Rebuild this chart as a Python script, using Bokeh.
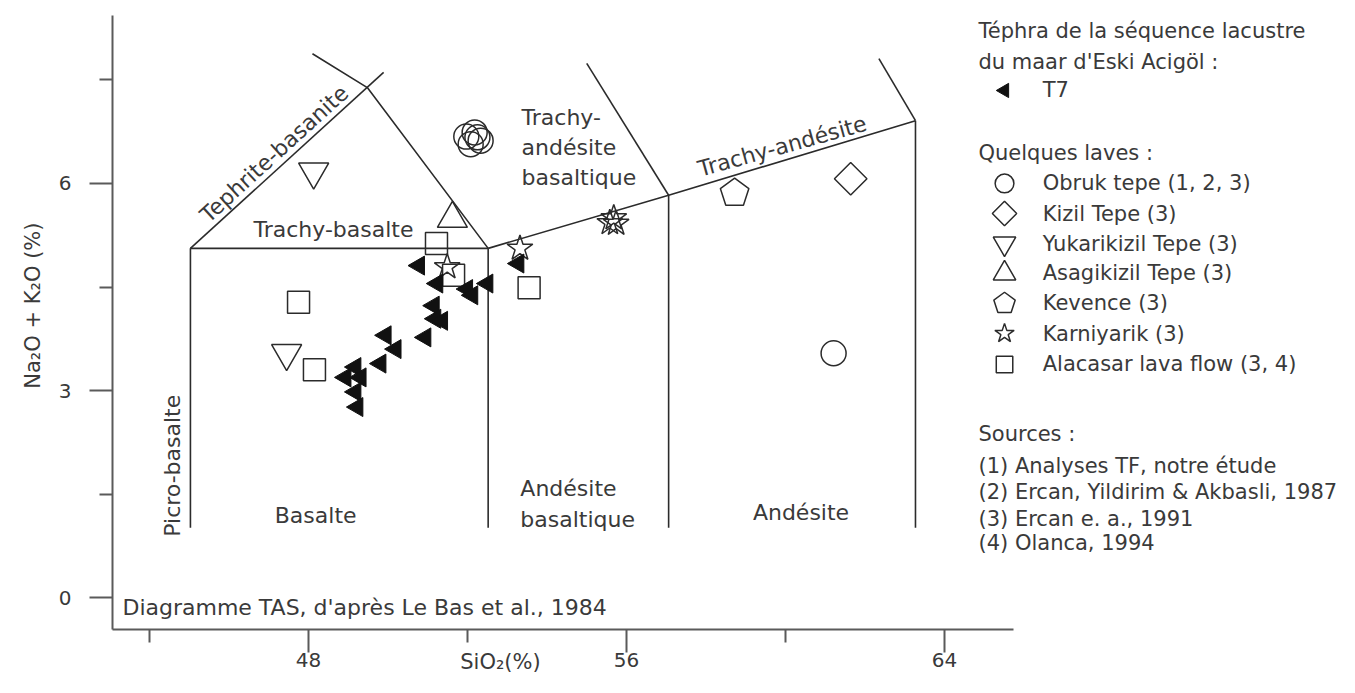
import numpy as np
from bokeh.plotting import figure
from bokeh.models import Range1d, FixedTicker
from bokeh.core.properties import value
from bokeh.embed import file_html
from bokeh.resources import INLINE

FONT = "DejaVu Sans"
TXT = "#3a3a3a"
LINE = "#2b2b2b"
AXC = "#5a5a5a"

# ---------------- data ----------------
# Tephra T7 (Eski Acigol maar lacustrine sequence)
t7_sio2 = [50.78, 51.24, 51.99, 52.12, 52.50, 51.15, 51.19, 51.36, 50.94,
           49.94, 50.19, 49.81, 49.18, 48.93, 49.31, 49.18, 49.23, 53.28]
t7_alk = [4.81, 4.55, 4.47, 4.38, 4.55, 4.23, 4.04, 4.01, 3.77,
          3.80, 3.60, 3.39, 3.34, 3.19, 3.19, 2.98, 2.76, 4.84]
# Lavas
obruk_sio2 = [51.97, 52.18, 52.33, 52.08, 52.25, 61.21]
obruk_alk = [6.68, 6.74, 6.62, 6.57, 6.67, 3.54]
kizil_sio2 = [61.64]
kizil_alk = [6.07]
yukari_sio2 = [48.13, 47.45]
yukari_alk = [6.17, 3.54]
asagi_sio2 = [51.62]
asagi_alk = [5.49]
kevence_sio2 = [58.72]
kevence_alk = [5.86]
karni_sio2 = [51.49, 53.32, 55.58, 55.68, 55.74]
karni_alk = [4.79, 5.06, 5.43, 5.50, 5.42]
alacasar_sio2 = [51.22, 47.75, 48.15, 51.65, 53.55]
alacasar_alk = [5.13, 4.28, 3.30, 4.67, 4.49]

# TAS field boundaries (as drawn)
bound_x = [[45.03, 45.03], [45.03, 52.52], [45.03, 49.89], [48.10, 49.48, 52.52],
           [52.52, 52.52], [52.52, 57.06, 63.27], [55.00, 57.06], [57.06, 57.06],
           [62.35, 63.27], [63.27, 63.27]]
bound_y = [[1.01, 5.06], [5.06, 5.06], [5.06, 7.61], [7.88, 7.39, 5.06],
           [1.01, 5.06], [5.06, 5.83, 6.91], [7.74, 5.83], [1.01, 5.83],
           [7.81, 6.91], [1.01, 6.91]]

# centred field names
field_names = ["Tephrite-basanite", "Trachy-basalte", "Picro-basalte", "Basalte",
               "Andésite", "Trachy-andésite"]
field_x = [47.14, 48.63, 44.58, 48.18, 60.39, 59.92]
field_y = [6.43, 5.33, 1.91, 1.19, 1.23, 6.54]
field_angle = [42.3, 0, 90, 0, 0, 15.5]
# left-aligned multi-line field names
field2_names = ["Trachy-", "andésite", "basaltique", "Andésite", "basaltique"]
field2_x = [53.36, 53.36, 53.36, 53.33, 53.33]
field2_y = [6.96, 6.52, 6.09, 1.58, 1.13]

x_ticks = [48, 56, 64]
x_minor = [44, 52, 60]
y_ticks = [0, 3, 6]
y_minor = [1.5, 4.5, 7.5]
x_axis_span = (43.07, 65.74)
y_axis_span = (-0.464, 8.435)

legend_head = ["Téphra de la séquence lacustre", "du maar d'Eski Acigöl :",
               "Quelques laves :", "Sources :",
               "(1) Analyses TF, notre étude",
               "(2) Ercan, Yildirim & Akbasli, 1987",
               "(3) Ercan e. a., 1991", "(4) Olanca, 1994"]
legend_head_y = [8.203, 7.754, 6.435, 2.377, 1.913, 1.522, 1.145, 0.783]
legend_items = ["T7", "Obruk tepe (1, 2, 3)", "Kizil Tepe (3)", "Yukarikizil Tepe (3)",
                "Asagikizil Tepe (3)", "Kevence (3)", "Karniyarik (3)",
                "Alacasar lava flow (3, 4)"]
legend_item_y = [7.348, 6.0, 5.565, 5.130, 4.696, 4.261, 3.826, 3.377]

# ---------------- figure ----------------
W, H = 1339, 677
X0, X1 = 40.252, 73.937
Y0, Y1 = -1.159, 8.652
PX_X = W / (X1 - X0)
PX_Y = H / (Y1 - Y0)

p = figure(width=W, height=H, x_range=Range1d(X0, X1), y_range=Range1d(Y0, Y1),
           output_backend="svg", toolbar_location=None,
           min_border=0, min_border_left=0, min_border_right=0,
           min_border_top=0, min_border_bottom=0)
p.outline_line_color = None
p.xgrid.visible = False
p.ygrid.visible = False
p.background_fill_color = "white"
p.border_fill_color = "white"

for ax in (p.xaxis[0], p.yaxis[0]):
    ax.axis_line_color = AXC
    ax.axis_line_width = 2
    ax.major_tick_line_color = AXC
    ax.major_tick_line_width = 2
    ax.minor_tick_line_color = AXC
    ax.minor_tick_line_width = 2
    ax.major_tick_in = 0
    ax.major_tick_out = 23
    ax.minor_tick_in = 0
    ax.minor_tick_out = 13
    ax.major_label_text_font = FONT
    ax.major_label_text_font_size = "20px"
    ax.major_label_text_color = TXT

p.xaxis[0].ticker = FixedTicker(ticks=x_ticks, minor_ticks=x_minor)
p.xaxis[0].bounds = x_axis_span
p.xaxis[0].fixed_location = y_axis_span[0]
p.xaxis[0].major_label_standoff = 0
p.yaxis[0].ticker = FixedTicker(ticks=y_ticks, minor_ticks=y_minor)
p.yaxis[0].bounds = y_axis_span
p.yaxis[0].fixed_location = x_axis_span[0]
p.yaxis[0].major_label_standoff = 18

# field boundaries
p.multi_line(xs=bound_x, ys=bound_y, line_color=LINE, line_width=1.6)

# field names
p.text(x=field_x, y=field_y, text=field_names, angle=field_angle, angle_units="deg",
       text_font=value(FONT), text_font_size="22px", text_color=TXT,
       text_align="center", text_baseline="middle")
p.text(x=field2_x, y=field2_y, text=field2_names,
       text_font=value(FONT), text_font_size="22px", text_color=TXT,
       text_align="left", text_baseline="middle")
p.text(x=[43.32], y=[-0.145], text=["Diagramme TAS, d'après Le Bas et al., 1984"],
       text_font=value(FONT), text_font_size="22px", text_color=TXT,
       text_align="left", text_baseline="middle")

# axis titles
p.text(x=[41.06], y=[4.23], text=["Na₂O + K₂O (%)"], angle=[90], angle_units="deg",
       text_font=value(FONT), text_font_size="21px", text_color=TXT,
       text_align="center", text_baseline="middle")
p.text(x=[52.83], y=[-0.93], text=["SiO₂(%)"],
       text_font=value(FONT), text_font_size="21px", text_color=TXT,
       text_align="center", text_baseline="middle")


def pentagons(xs, ys, r_px):
    ang = np.deg2rad(90 + 72 * np.arange(5))
    px = [list(x + r_px * np.cos(ang) / PX_X) for x in xs]
    py = [list(y + r_px * np.sin(ang) / PX_Y) for y in ys]
    return px, py


def draw_markers(sx, sy, scale):
    s = scale
    p.scatter(sx["obruk"], sy["obruk"], marker="circle", size=25 * s, fill_color=None,
              line_color=LINE, line_width=1.5)
    p.scatter(sx["kizil"], sy["kizil"], marker="square", angle=45, angle_units="deg",
              size=23 * s, fill_color=None, line_color=LINE, line_width=1.5)
    p.scatter(sx["yukari"], sy["yukari"], marker="inverted_triangle", size=30 * s,
              fill_color=None, line_color=LINE, line_width=1.5)
    p.scatter(sx["asagi"], sy["asagi"], marker="triangle", size=30 * s,
              fill_color=None, line_color=LINE, line_width=1.5)
    pxs, pys = pentagons(sx["kevence"], sy["kevence"], 15 * s)
    p.patches(pxs, pys, fill_color=None, line_color=LINE, line_width=1.5)
    p.scatter(sx["karni"], sy["karni"], marker="star", size=27 * s,
              fill_color=None, line_color=LINE, line_width=1.5)
    p.scatter(sx["alacasar"], sy["alacasar"], marker="square", size=22 * s,
              fill_color=None, line_color=LINE, line_width=1.5)
    p.scatter(sx["t7"], sy["t7"], marker="triangle", angle=90, angle_units="deg",
              size=19 * s, fill_color="#111111", line_color="#111111", line_width=1)


draw_markers(
    {"obruk": obruk_sio2, "kizil": kizil_sio2, "yukari": yukari_sio2, "asagi": asagi_sio2,
     "kevence": kevence_sio2, "karni": karni_sio2, "alacasar": alacasar_sio2, "t7": t7_sio2},
    {"obruk": obruk_alk, "kizil": kizil_alk, "yukari": yukari_alk, "asagi": asagi_alk,
     "kevence": kevence_alk, "karni": karni_alk, "alacasar": alacasar_alk, "t7": t7_alk},
    1.0)

# ---------------- legend (drawn) ----------------
LX_TXT = 64.855
LX_MK = 65.51
LX_ITEM = 66.47
keys = ["t7", "obruk", "kizil", "yukari", "asagi", "kevence", "karni", "alacasar"]
draw_markers({k: [LX_MK] for k in keys},
             {k: [legend_item_y[i]] for i, k in enumerate(keys)}, 0.75)
p.text(x=[LX_ITEM] * len(legend_items), y=legend_item_y, text=legend_items,
       text_font=value(FONT), text_font_size="21px", text_color=TXT,
       text_align="left", text_baseline="middle")
p.text(x=[LX_TXT] * len(legend_head), y=legend_head_y, text=legend_head,
       text_font=value(FONT), text_font_size="21px", text_color=TXT,
       text_align="left", text_baseline="middle")

open("out.html", "w").write(file_html(p, INLINE))
